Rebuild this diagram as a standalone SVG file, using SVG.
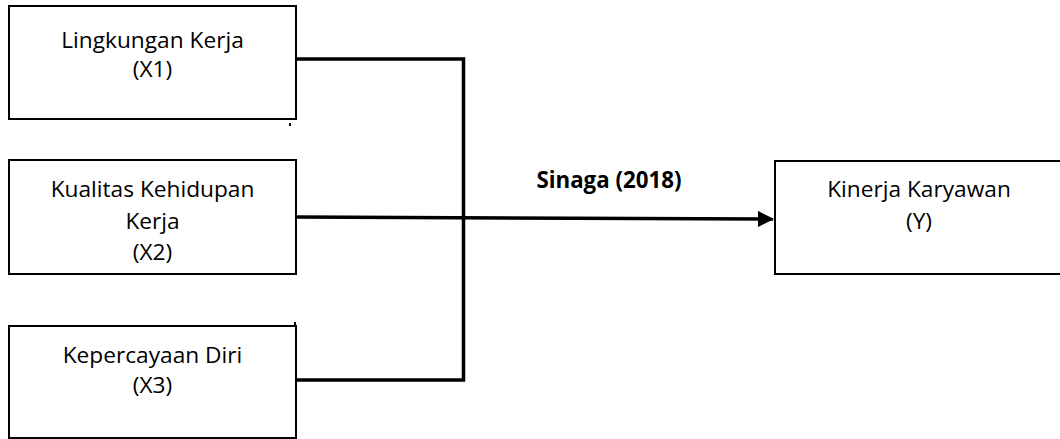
<svg xmlns="http://www.w3.org/2000/svg" width="1060" height="439" viewBox="0 0 1060 439">
<style>
.box{fill:#fff;stroke:#000;stroke-width:2}
.t{font-family:"Open Sans","Liberation Sans",sans-serif;font-size:22.7px;fill:#000;text-anchor:middle}
.b{font-family:"Open Sans","Liberation Sans",sans-serif;font-size:22.3px;font-weight:bold;fill:#000;text-anchor:middle}
.c{fill:none;stroke:#000;stroke-width:3.5}
</style>
<defs>
<marker id="ah" markerWidth="16" markerHeight="16" refX="15" refY="8" orient="auto" markerUnits="userSpaceOnUse">
<path d="M0,0 L16,8 L0,16 Z" fill="#000"/>
</marker>
</defs>
<rect width="1060" height="439" fill="#fff"/>
<g id="connectors">
<polyline class="c" points="296,59 463.5,59 463.5,380 296,380"/>
<line class="c" x1="296" y1="217" x2="773" y2="219" marker-end="url(#ah)"/>
<rect x="289" y="123" width="2" height="3" fill="#000"/>
<rect x="294" y="322" width="2" height="4" fill="#000"/>
</g>
<g id="x1">
<rect class="box" x="9" y="6" width="287" height="113"/>
<text class="t" x="152.5" y="48">Lingkungan Kerja</text>
<text class="t" x="152.5" y="77">(X1)</text>
</g>
<g id="x2">
<rect class="box" x="9" y="160" width="287" height="114"/>
<text class="t" x="152.5" y="197">Kualitas Kehidupan</text>
<text class="t" x="152.5" y="229">Kerja</text>
<text class="t" x="152.5" y="260">(X2)</text>
</g>
<g id="x3">
<rect class="box" x="9" y="326" width="287" height="112"/>
<text class="t" x="152.5" y="363">Kepercayaan Diri</text>
<text class="t" x="152.5" y="393">(X3)</text>
</g>
<g id="y">
<rect class="box" x="775" y="161" width="320" height="113"/>
<text class="t" x="919" y="197">Kinerja Karyawan</text>
<text class="t" x="919" y="229">(Y)</text>
</g>
<g id="label">
<text class="b" x="609" y="188">Sinaga (2018)</text>
</g>
</svg>
